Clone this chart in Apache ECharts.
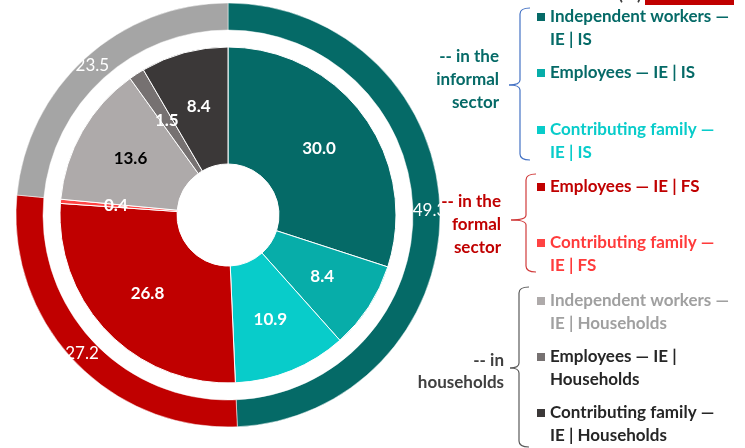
<!DOCTYPE html>
<html><head><meta charset="utf-8">
<script src="https://cdn.jsdelivr.net/npm/echarts@6/dist/echarts.min.js"></script>
<style>html,body{margin:0;padding:0;background:#fff}#c{width:745px;height:448px}</style>
</head><body><div id="c"></div>
<script>
const innerNames = ['Independent workers — IE | IS', 'Employees — IE | IS', 'Contributing family — IE | IS',
  'Employees — IE | FS', 'Contributing family — IE | FS',
  'Independent workers — IE | Households', 'Employees — IE | Households', 'Contributing family — IE | Households'];
const innerValues = [30.0, 8.4, 10.9, 26.8, 0.4, 13.6, 1.5, 8.4];
const innerColors = ['#056A67', '#07ADA9', '#08CCCA', '#C00000', '#FF4343', '#AEAAAA', '#767171', '#3B3838'];
const innerLabelColors = ['#fff', '#fff', '#fff', '#fff', '#fff', '#000', '#fff', '#fff'];
const outerNames = ['in the informal sector', 'in the formal sector', 'in households'];
const outerValues = [49.3, 27.2, 23.5];
const outerColors = ['#056A67', '#C00000', '#A5A5A5'];

const legendLines = [['Independent workers —', 'IE | IS'], ['Employees — IE | IS'], ['Contributing family —', 'IE | IS'],
  ['Employees — IE | FS'], ['Contributing family —', 'IE | FS'],
  ['Independent workers —', 'IE | Households'], ['Employees — IE |', 'Households'], ['Contributing family —', 'IE | Households']];
const legendTextColors = ['#056A67', '#056A67', '#08CCCA', '#C00000', '#FF3B3B', '#A0A0A0', '#262626', '#262626'];
const legendY = [17, 73, 130, 187, 243, 301, 357, 413];
const groupLines = [['-- in the', 'informal', 'sector'], ['-- in the', 'formal', 'sector'], ['-- in', 'households']];
const groupColors = ['#056A67', '#C00000', '#404040'];
const groupY = [57, 202, 361];
const groupRight = [499, 501, 504];
const bracketColors = ['#4472C4', '#D03A3A', '#595959'];
const brackets = [[8, 85, 160, 520, 509], [174, 220, 272, 526, 511], [287, 368, 447, 519, 510]];

const FONT = 'Lato, "Open Sans", sans-serif';
const graphic = [];
legendLines.forEach((lines, i) => {
  graphic.push({type: 'rect', shape: {x: 537, y: legendY[i] - 4, width: 8, height: 8}, style: {fill: innerColors[i]}});
  lines.forEach((t, j) => {
    graphic.push({type: 'text', x: 550, y: legendY[i] + j * 23,
      style: {text: t, fill: legendTextColors[i], font: 'bold 17px ' + FONT, textVerticalAlign: 'middle', textAlign: 'left'}});
  });
});
groupLines.forEach((lines, i) => {
  const lh = i === 2 ? 22 : 22.7;
  lines.forEach((t, j) => {
    graphic.push({type: 'text', x: groupRight[i], y: groupY[i] + j * lh,
      style: {text: t, fill: groupColors[i], font: 'bold 17px ' + FONT, textVerticalAlign: 'middle', textAlign: 'right'}});
  });
});
brackets.forEach((b, i) => {
  const [t, m, bt, x, tip] = b;
  const hx = x + 10;
  const st = {stroke: bracketColors[i], fill: 'none', lineWidth: 1.2};
  const curve = (x1, y1, cx, cy, x2, y2) => graphic.push({type: 'bezierCurve',
    shape: {x1: x1, y1: y1, cpx1: cx, cpy1: cy, x2: x2, y2: y2}, style: st});
  const line = (x1, y1, x2, y2) => graphic.push({type: 'line', shape: {x1: x1, y1: y1, x2: x2, y2: y2}, style: st});
  curve(hx, t, x, t, x, t + 6);
  line(x, t + 6, x, m - 5);
  curve(x, m - 5, x, m, tip, m);
  curve(tip, m, x, m, x, m + 5);
  line(x, m + 5, x, bt - 6);
  curve(x, bt - 6, x, bt, hx, bt);
});
graphic.push({type: 'rect', shape: {x: 645, y: 0, width: 89, height: 5}, style: {fill: '#C00000'}});
graphic.push({type: 'text', x: 630, y: -5, style: {text: '(%)', fill: '#404040', font: 'bold 17px ' + FONT, textAlign: 'center', textVerticalAlign: 'middle'}});

const chart = echarts.init(document.getElementById('c'));
chart.setOption({
  animation: false,
  series: [
    {
      type: 'pie', center: [228, 215], radius: [51, 168], startAngle: 90, clockwise: true,
      avoidLabelOverlap: false,
      itemStyle: {borderColor: '#fff', borderWidth: 1},
      label: {position: 'inside', fontFamily: FONT, fontWeight: 'bold', fontSize: 17,
        formatter: p => p.value.toFixed(1)},
      labelLine: {show: false},
      emphasis: {disabled: true},
      data: innerValues.map((v, i) => ({name: innerNames[i], value: v,
        itemStyle: {color: innerColors[i]}, label: {color: innerLabelColors[i]}}))
    },
    {
      type: 'pie', center: [228, 215], radius: [185, 212], startAngle: 90, clockwise: true,
      avoidLabelOverlap: false,
      itemStyle: {borderColor: '#fff', borderWidth: 0.5},
      label: {position: 'inside', fontFamily: FONT, fontSize: 17, color: '#fff',
        formatter: p => p.value.toFixed(1)},
      labelLine: {show: false},
      emphasis: {disabled: true},
      data: outerValues.map((v, i) => ({name: outerNames[i], value: v, itemStyle: {color: outerColors[i]}}))
    }
  ],
  graphic: graphic
});
</script>
</body></html>
